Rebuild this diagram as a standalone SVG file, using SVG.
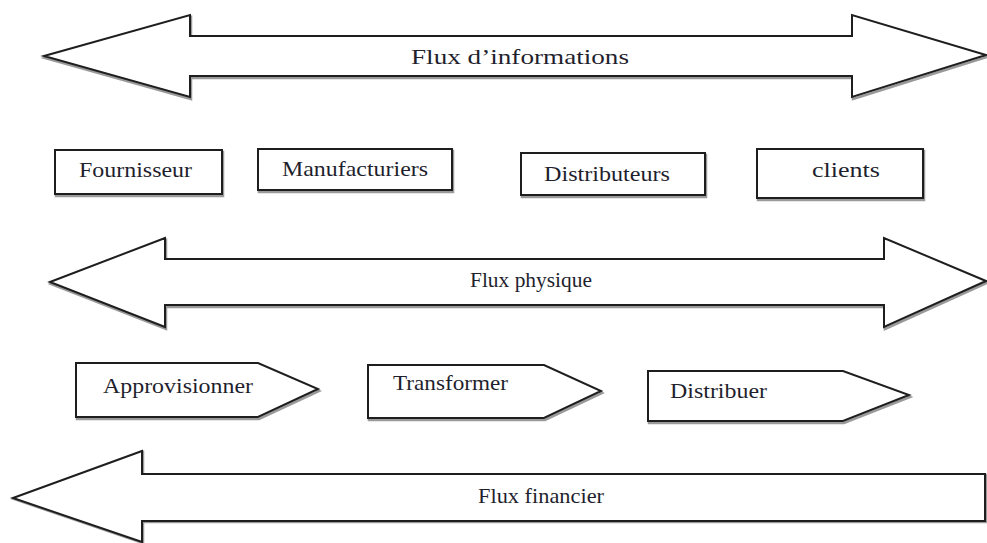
<svg xmlns="http://www.w3.org/2000/svg" width="987" height="543" viewBox="0 0 987 543">
<style>
.sh{fill:none;stroke:#9a9a9a;stroke-width:2.5}
.s{fill:#fff;stroke:#1e1e1e;stroke-width:2;stroke-linejoin:miter}
.t{font-family:"Liberation Serif","Times New Roman",serif;font-size:21px;fill:#1f1f2e}
</style>
<rect width="987" height="543" fill="#fff"/>
<g id="flux-informations">
<polygon class="sh" transform="translate(1,2)" points="44,56 190,15 190,36 852,36 852,15 986,55 852,97 852,76 190,76 190,97"/>
<polygon class="s" points="44,56 190,15 190,36 852,36 852,15 986,55 852,97 852,76 190,76 190,97"/>
<text class="t" x="411" y="64" textLength="218" lengthAdjust="spacingAndGlyphs">Flux d’informations</text>
</g>
<g id="fournisseur">
<rect class="sh" x="56" y="152" width="167" height="44"/>
<rect class="s" x="55" y="150" width="167" height="44"/>
<text class="t" x="79" y="177" textLength="113" lengthAdjust="spacingAndGlyphs">Fournisseur</text>
</g>
<g id="manufacturiers">
<rect class="sh" x="259" y="151" width="194" height="41"/>
<rect class="s" x="258" y="149" width="194" height="41"/>
<text class="t" x="282" y="176" textLength="146" lengthAdjust="spacingAndGlyphs">Manufacturiers</text>
</g>
<g id="distributeurs">
<rect class="sh" x="522" y="155" width="184" height="42"/>
<rect class="s" x="521" y="153" width="184" height="42"/>
<text class="t" x="544" y="181" textLength="126" lengthAdjust="spacingAndGlyphs">Distributeurs</text>
</g>
<g id="clients">
<rect class="sh" x="758" y="151" width="166" height="49"/>
<rect class="s" x="757" y="149" width="166" height="49"/>
<text class="t" x="812" y="177" textLength="68" lengthAdjust="spacingAndGlyphs">clients</text>
</g>
<g id="flux-physique">
<polygon class="sh" transform="translate(1,2)" points="50,282 165,238 165,259 884,259 884,238 986,281 884,327 884,305 165,305 165,327"/>
<polygon class="s" points="50,282 165,238 165,259 884,259 884,238 986,281 884,327 884,305 165,305 165,327"/>
<text class="t" x="470" y="287" textLength="122" lengthAdjust="spacingAndGlyphs">Flux physique</text>
</g>
<g id="approvisionner">
<polygon class="sh" transform="translate(1,2)" points="76,363 258,363 318,389 258,417 76,417"/>
<polygon class="s" points="76,363 258,363 318,389 258,417 76,417"/>
<text class="t" x="103" y="393" textLength="150" lengthAdjust="spacingAndGlyphs">Approvisionner</text>
</g>
<g id="transformer">
<polygon class="sh" transform="translate(1,2)" points="368,365 544,365 601,391 544,418 368,418"/>
<polygon class="s" points="368,365 544,365 601,391 544,418 368,418"/>
<text class="t" x="393" y="390" textLength="115" lengthAdjust="spacingAndGlyphs">Transformer</text>
</g>
<g id="distribuer">
<polygon class="sh" transform="translate(1,2)" points="648,371 843,371 909,395 843,421 648,421"/>
<polygon class="s" points="648,371 843,371 909,395 843,421 648,421"/>
<text class="t" x="670" y="398" textLength="97" lengthAdjust="spacingAndGlyphs">Distribuer</text>
</g>
<g id="flux-financier">
<polygon class="sh" transform="translate(1,1)" points="13,498 142,451 142,474 985,474 985,521 142,521 142,542"/>
<polygon class="s" points="13,498 142,451 142,474 985,474 985,521 142,521 142,542"/>
<text class="t" x="478" y="503" textLength="126" lengthAdjust="spacingAndGlyphs">Flux financier</text>
</g>
<g id="connectors"></g>
</svg>
